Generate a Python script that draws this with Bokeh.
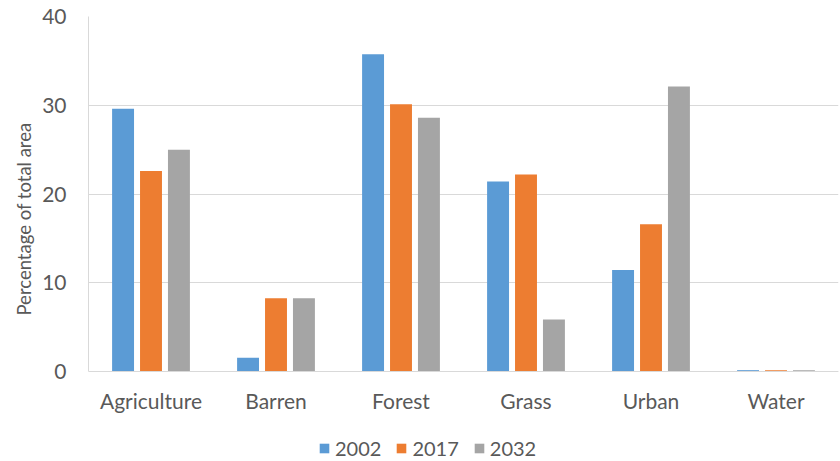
from bokeh.plotting import figure
from bokeh.models import (ColumnDataSource, FactorRange, Range1d, Legend, LegendItem,
                          FixedTicker, Title)
from bokeh.transform import dodge
from bokeh.embed import file_html
from bokeh.resources import INLINE

# Land-cover share per class for three years
categories = ["Agriculture", "Barren", "Forest", "Grass", "Urban", "Water"]
years = ["2002", "2017", "2032"]
share_2002 = [29.6, 1.55, 35.75, 21.4, 11.45, 0.15]
share_2017 = [22.6, 8.25, 30.1, 22.2, 16.6, 0.15]
share_2032 = [25.0, 8.25, 28.6, 5.85, 32.1, 0.15]
y_ticks = [0, 10, 20, 30, 40]

colors = ["#5b9bd5", "#ed7d31", "#a5a5a5"]
font = "Lato"
text_color = "#595959"
grid_color = "#d9d9d9"
fs = "21px"

source = ColumnDataSource(dict(
    cat=categories,
    y2002=share_2002,
    y2017=share_2017,
    y2032=share_2032,
))

# the frame runs to the bottom edge so the legend can sit under the category labels;
# the value axis itself only spans 0..40
p = figure(
    x_range=FactorRange(*categories),
    y_range=Range1d(-10.14, 40),
    width=840, height=461,
    output_backend="svg", toolbar_location=None,
    min_border_left=88, min_border_right=2,
    min_border_top=16, min_border_bottom=0,
    outline_line_color=None,
)

offsets = [-0.2235, 0.0, 0.2235]
renderers = []
for col, off, color in zip(["y2002", "y2017", "y2032"], offsets, colors):
    r = p.vbar(x=dodge("cat", off, range=p.x_range), top=col, width=0.1755,
               source=source, fill_color=color, line_color=None)
    renderers.append(r)

# value axis
p.yaxis.ticker = FixedTicker(ticks=y_ticks)
p.yaxis.bounds = (0, 40)
p.yaxis.major_label_text_font = font
p.yaxis.major_label_text_font_size = fs
p.yaxis.major_label_text_color = text_color
p.yaxis.major_label_standoff = 16
p.yaxis.major_tick_line_color = None
p.yaxis.minor_tick_line_color = None
p.yaxis.axis_line_color = grid_color

# vertical value-axis caption, lifted so it is centred on the 0..40 span
p.add_layout(Title(
    text="Percentage of total area", align="left", offset=146,
    text_font=font, text_font_size="18.5px", text_font_style="normal",
    text_color=text_color, standoff=10,
), "left")

# category axis pinned at zero
p.xaxis.fixed_location = 0
p.xaxis.major_label_text_font = font
p.xaxis.major_label_text_font_size = fs
p.xaxis.major_label_text_color = text_color
p.xaxis.major_label_standoff = 10
p.xaxis.major_tick_line_color = None
p.xaxis.minor_tick_line_color = None
p.xaxis.axis_line_color = grid_color

p.xgrid.grid_line_color = None
p.ygrid.grid_line_color = grid_color
p.ygrid.grid_line_width = 1.2

legend = Legend(
    items=[LegendItem(label=y, renderers=[r]) for y, r in zip(years, renderers)],
    orientation="horizontal",
    location=(230, 1),
    glyph_width=12, glyph_height=12,
    label_standoff=5, spacing=14,
    padding=0, margin=0,
    label_text_font=font, label_text_font_size="20px",
    label_text_color=text_color,
    border_line_color=None, background_fill_alpha=0,
)
p.add_layout(legend, "center")

open("out.html", "w").write(file_html(p, INLINE))
